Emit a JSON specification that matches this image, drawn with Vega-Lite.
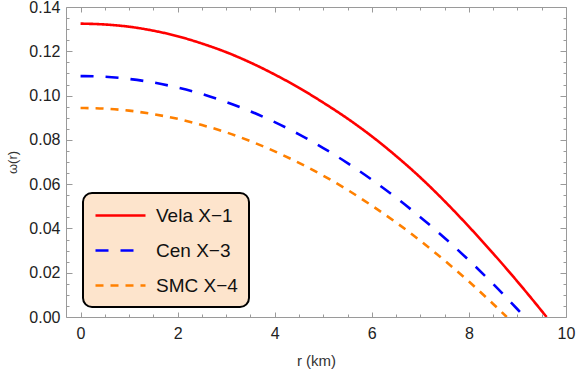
{
  "$schema": "https://vega.github.io/schema/vega-lite/v6.json",
  "width": 500,
  "height": 310,
  "autosize": {"type": "none"},
  "padding": {"left": 66, "top": 7, "right": 10, "bottom": 52},
  "background": "white",
  "config": {
    "view": {"stroke": null},
    "font": "Liberation Sans",
    "axis": {"grid": false, "domainColor": "#9a9a9a", "tickColor": "#9a9a9a", "domainWidth": 1, "tickWidth": 1, "labelFont": "Liberation Sans", "titleFont": "Liberation Sans", "labelColor": "#222222", "titleColor": "#333333", "titleFontWeight": "normal"}
  },
  "data": {"values": [
    {"r": 0, "w": 0.1325, "s": "Vela X−1"},
    {"r": 0.5, "w": 0.1321, "s": "Vela X−1"},
    {"r": 1, "w": 0.1311, "s": "Vela X−1"},
    {"r": 1.5, "w": 0.1293, "s": "Vela X−1"},
    {"r": 2, "w": 0.1268, "s": "Vela X−1"},
    {"r": 2.5, "w": 0.1235, "s": "Vela X−1"},
    {"r": 3, "w": 0.1196, "s": "Vela X−1"},
    {"r": 3.5, "w": 0.1149, "s": "Vela X−1"},
    {"r": 4, "w": 0.1095, "s": "Vela X−1"},
    {"r": 4.5, "w": 0.1035, "s": "Vela X−1"},
    {"r": 5, "w": 0.0968, "s": "Vela X−1"},
    {"r": 5.5, "w": 0.0896, "s": "Vela X−1"},
    {"r": 6, "w": 0.0816, "s": "Vela X−1"},
    {"r": 6.5, "w": 0.0727, "s": "Vela X−1"},
    {"r": 7, "w": 0.0630, "s": "Vela X−1"},
    {"r": 7.5, "w": 0.0523, "s": "Vela X−1"},
    {"r": 8, "w": 0.0408, "s": "Vela X−1"},
    {"r": 8.5, "w": 0.0287, "s": "Vela X−1"},
    {"r": 9, "w": 0.0160, "s": "Vela X−1"},
    {"r": 9.3, "w": 0.0081, "s": "Vela X−1"},
    {"r": 9.6, "w": 0, "s": "Vela X−1"},
    {"r": 0, "w": 0.1088, "s": "Cen X−3"},
    {"r": 0.5, "w": 0.1085, "s": "Cen X−3"},
    {"r": 1, "w": 0.1075, "s": "Cen X−3"},
    {"r": 1.5, "w": 0.1059, "s": "Cen X−3"},
    {"r": 2, "w": 0.1036, "s": "Cen X−3"},
    {"r": 2.5, "w": 0.1007, "s": "Cen X−3"},
    {"r": 3, "w": 0.0971, "s": "Cen X−3"},
    {"r": 3.5, "w": 0.0929, "s": "Cen X−3"},
    {"r": 4, "w": 0.0880, "s": "Cen X−3"},
    {"r": 4.5, "w": 0.0825, "s": "Cen X−3"},
    {"r": 5, "w": 0.0763, "s": "Cen X−3"},
    {"r": 5.5, "w": 0.0695, "s": "Cen X−3"},
    {"r": 6, "w": 0.0620, "s": "Cen X−3"},
    {"r": 6.5, "w": 0.0539, "s": "Cen X−3"},
    {"r": 7, "w": 0.0451, "s": "Cen X−3"},
    {"r": 7.5, "w": 0.0357, "s": "Cen X−3"},
    {"r": 8, "w": 0.0256, "s": "Cen X−3"},
    {"r": 8.5, "w": 0.0149, "s": "Cen X−3"},
    {"r": 9, "w": 0.0035, "s": "Cen X−3"},
    {"r": 9.15, "w": 0, "s": "Cen X−3"},
    {"r": 0, "w": 0.0944, "s": "SMC X−4"},
    {"r": 0.5, "w": 0.0941, "s": "SMC X−4"},
    {"r": 1, "w": 0.0932, "s": "SMC X−4"},
    {"r": 1.5, "w": 0.0916, "s": "SMC X−4"},
    {"r": 2, "w": 0.0895, "s": "SMC X−4"},
    {"r": 2.5, "w": 0.0867, "s": "SMC X−4"},
    {"r": 3, "w": 0.0834, "s": "SMC X−4"},
    {"r": 3.5, "w": 0.0794, "s": "SMC X−4"},
    {"r": 4, "w": 0.0748, "s": "SMC X−4"},
    {"r": 4.5, "w": 0.0696, "s": "SMC X−4"},
    {"r": 5, "w": 0.0638, "s": "SMC X−4"},
    {"r": 5.5, "w": 0.0574, "s": "SMC X−4"},
    {"r": 6, "w": 0.0503, "s": "SMC X−4"},
    {"r": 6.5, "w": 0.0427, "s": "SMC X−4"},
    {"r": 7, "w": 0.0344, "s": "SMC X−4"},
    {"r": 7.5, "w": 0.0255, "s": "SMC X−4"},
    {"r": 8, "w": 0.0160, "s": "SMC X−4"},
    {"r": 8.5, "w": 0.0059, "s": "SMC X−4"},
    {"r": 8.78, "w": 0, "s": "SMC X−4"}
  ]},
  "resolve": {"axis": {"x": "independent", "y": "independent"}},
  "layer": [
    {
      "mark": {"type": "line", "strokeWidth": 2.6, "interpolate": "monotone", "clip": true},
      "encoding": {
        "x": {"field": "r", "type": "quantitative", "scale": {"domain": [-0.3, 10], "nice": false, "zero": false},
              "axis": {"orient": "bottom", "title": "r (km)", "values": [0, 2, 4, 6, 8, 10], "tickSize": -5, "labelPadding": 13, "labelFontSize": 16, "titleFontSize": 15, "titlePadding": 12, "labelFlush": false, "labelOverlap": false}},
        "y": {"field": "w", "type": "quantitative", "scale": {"domain": [0, 0.14], "nice": false},
              "axis": {"orient": "left", "title": "ω(r)", "values": [0, 0.02, 0.04, 0.06, 0.08, 0.1, 0.12, 0.14], "format": ".2f", "tickSize": -6, "labelPadding": 12, "labelFontSize": 16, "titleFontSize": 13, "titlePadding": 9, "labelFlush": false, "labelOverlap": false}},
        "color": {"field": "s", "type": "nominal", "sort": null,
                  "scale": {"domain": ["Vela X−1", "Cen X−3", "SMC X−4"], "range": ["#ff0000", "#0000ff", "#ff8000"]},
                  "legend": {"title": null, "orient": "none", "legendX": 17, "legendY": 186, "fillColor": "#fde4cc", "strokeColor": "#000000", "cornerRadius": 9, "padding": 11, "symbolType": "M-1,0H4", "symbolSize": 400, "symbolStrokeWidth": 2.6, "labelFontSize": 19, "labelFont": "Liberation Sans", "labelColor": "#111111", "labelOffset": 39, "rowPadding": 13,
                             "encode": {"legend": {"update": {"strokeWidth": {"value": 2}}}}}},
        "strokeDash": {"field": "s", "type": "nominal", "sort": null,
                       "scale": {"domain": ["Vela X−1", "Cen X−3", "SMC X−4"], "range": [[1, 0], [13, 12], [8, 7]]},
                       "legend": null}
      }
    },
    {
      "mark": {"type": "point", "opacity": 0},
      "encoding": {
        "x": {"field": "r", "type": "quantitative", "axis": {"orient": "bottom", "title": null, "labels": false, "domain": false, "tickSize": -3, "values": [0.5, 1, 1.5, 2.5, 3, 3.5, 4.5, 5, 5.5, 6.5, 7, 7.5, 8.5, 9, 9.5]}},
        "y": {"field": "w", "type": "quantitative", "axis": {"orient": "left", "title": null, "labels": false, "domain": false, "tickSize": -3, "values": [0.005, 0.01, 0.015, 0.025, 0.03, 0.035, 0.045, 0.05, 0.055, 0.065, 0.07, 0.075, 0.085, 0.09, 0.095, 0.105, 0.11, 0.115, 0.125, 0.13, 0.135]}}
      }
    },
    {
      "mark": {"type": "point", "opacity": 0},
      "encoding": {
        "x": {"field": "r", "type": "quantitative", "axis": {"orient": "top", "title": null, "labels": false, "tickSize": -5, "values": [0, 2, 4, 6, 8, 10]}},
        "y": {"field": "w", "type": "quantitative", "axis": {"orient": "right", "title": null, "labels": false, "tickSize": -6, "values": [0, 0.02, 0.04, 0.06, 0.08, 0.1, 0.12, 0.14]}}
      }
    },
    {
      "mark": {"type": "point", "opacity": 0},
      "encoding": {
        "x": {"field": "r", "type": "quantitative", "axis": {"orient": "top", "title": null, "labels": false, "domain": false, "tickSize": -3, "values": [0.5, 1, 1.5, 2.5, 3, 3.5, 4.5, 5, 5.5, 6.5, 7, 7.5, 8.5, 9, 9.5]}},
        "y": {"field": "w", "type": "quantitative", "axis": {"orient": "right", "title": null, "labels": false, "domain": false, "tickSize": -3, "values": [0.005, 0.01, 0.015, 0.025, 0.03, 0.035, 0.045, 0.05, 0.055, 0.065, 0.07, 0.075, 0.085, 0.09, 0.095, 0.105, 0.11, 0.115, 0.125, 0.13, 0.135]}}
      }
    }
  ]
}
